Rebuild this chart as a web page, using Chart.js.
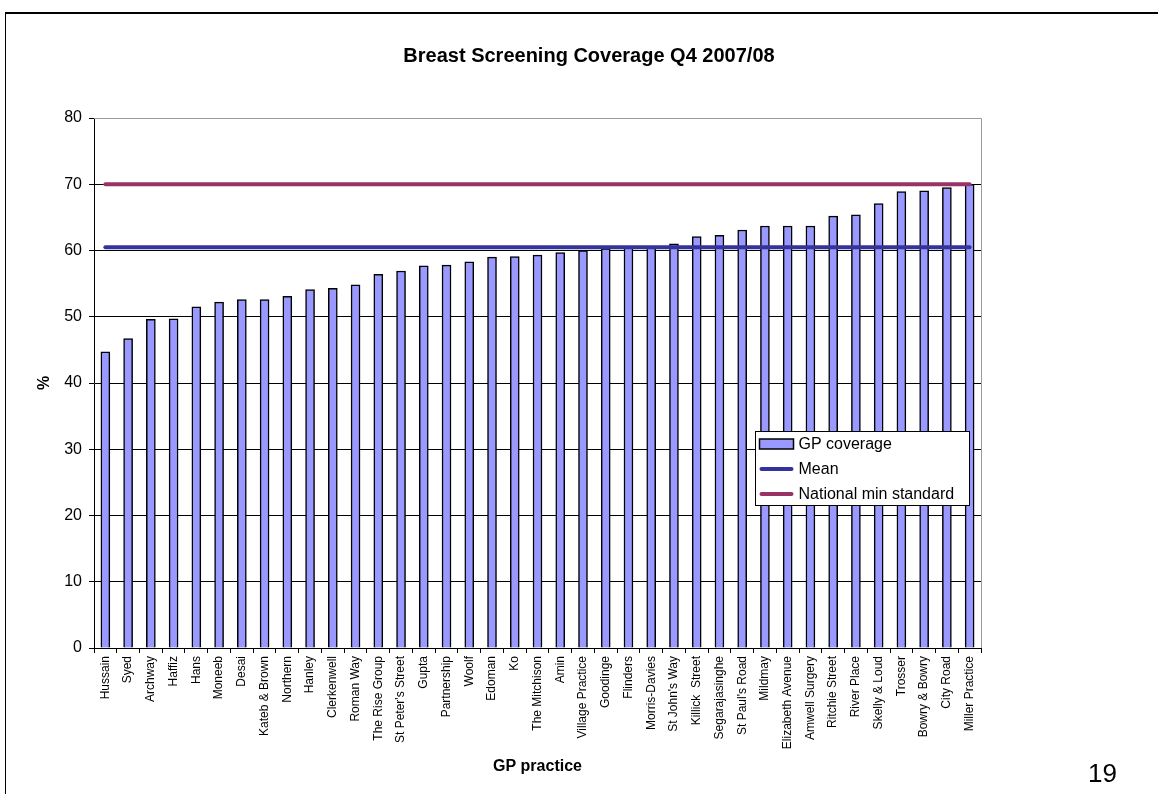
<!DOCTYPE html>
<html>
<head>
<meta charset="utf-8">
<title>Breast Screening Coverage Q4 2007/08</title>
<script src="https://cdn.jsdelivr.net/npm/chart.js@4.4.1/dist/chart.umd.min.js"></script>
<style>
    body { margin: 0; background: #fff; font-family: Arial, "Liberation Sans", sans-serif; overflow: hidden; }
    #frame { position: absolute; left: 5px; top: 12px; width: 1200px; height: 900px; border-top: 2px solid #000; border-left: 1px solid #000; }
    #wrap { position: absolute; left: 0; top: 0; width: 1158px; height: 794px; }
    #pageNo { position: absolute; left: 1088px; top: 760px; font-size: 26px; line-height: 26px; color: #000; }
</style>
</head>
<body>
<div id="frame"></div>
<div id="wrap"><canvas id="chart" width="1158" height="794"></canvas></div>
<div id="pageNo">19</div>
<script>
// GP practices, sorted by coverage
var practices = ['Hussain', 'Syed', 'Archway', 'Haffiz', 'Hans', 'Moneeb', 'Desai', 'Kateb & Brown',
    'Northern', 'Hanley', 'Clerkenwell', 'Roman Way', 'The Rise Group', "St Peter's Street", 'Gupta',
    'Partnership', 'Woolf', 'Edoman', 'Ko', 'The Mitchison', 'Amin', 'Village Practice', 'Goodinge',
    'Flinders', 'Morris-Davies', "St John's Way", 'Killick  Street', 'Segarajasinghe', "St Paul's Road",
    'Mildmay', 'Elizabeth Avenue', 'Amwell Surgery', 'Ritchie Street', 'River Place', 'Skelly & Loud',
    'Trosser', 'Bowry & Bowry', 'City Road', 'Miller Practice'];

// coverage % per practice
var coverage = [44.7, 46.7, 49.6, 49.7, 51.5, 52.2, 52.6, 52.6,
    53.1, 54.1, 54.3, 54.8, 56.4, 56.9, 57.7,
    57.8, 58.3, 59.0, 59.1, 59.3, 59.7, 60.0, 60.3,
    60.4, 60.5, 61.0, 62.1, 62.3, 63.1,
    63.7, 63.7, 63.7, 65.2, 65.4, 67.1,
    68.9, 69.0, 69.5, 70.0];

var meanValue = 60.5;
var nationalMin = 70;
var yTicks = [0, 10, 20, 30, 40, 50, 60, 70, 80];

var first = practices[0];
var last = practices[practices.length - 1];

// borde gris del area de trazado (arriba y derecha)
var plotBorder = {
    id: 'plotBorder',
    beforeDatasetsDraw: function (chart) {
        var a = chart.chartArea, ctx = chart.ctx;
        ctx.save();
        ctx.strokeStyle = '#9a9a9a';
        ctx.lineWidth = 1;
        ctx.beginPath();
        ctx.moveTo(a.left, a.top + 0.5);
        ctx.lineTo(Math.round(a.right) + 0.5, a.top + 0.5);
        ctx.lineTo(Math.round(a.right) + 0.5, a.bottom);
        ctx.stroke();
        ctx.restore();
    }
};

// titulo principal
var mainTitle = {
    id: 'mainTitle',
    afterDraw: function (chart) {
        var ctx = chart.ctx;
        ctx.save();
        ctx.font = 'bold 20px Arial, "Liberation Sans", sans-serif';
        ctx.fillStyle = '#000';
        ctx.textAlign = 'center';
        ctx.textBaseline = 'alphabetic';
        ctx.fillText('Breast Screening Coverage Q4 2007/08', 589, 62);
        ctx.restore();
    }
};

// leyenda dentro del area de trazado
var boxLegend = {
    id: 'boxLegend',
    afterDatasetsDraw: function (chart) {
        var a = chart.chartArea, ctx = chart.ctx;
        var x = Math.round(a.right) - 225.5, y = Math.round(a.top) + 313.5;
        var w = 214, h = 74;
        ctx.save();
        ctx.fillStyle = '#fff';
        ctx.fillRect(x, y, w, h);
        ctx.strokeStyle = '#000';
        ctx.lineWidth = 1;
        ctx.strokeRect(x, y, w, h);
        ctx.font = '16px Arial, "Liberation Sans", sans-serif';
        ctx.textBaseline = 'middle';
        chart.data.datasets.forEach(function (ds, i) {
            var cy = y + 12.5 + i * 25;
            if (ds.type === 'line') {
                ctx.strokeStyle = ds.borderColor;
                ctx.lineWidth = 4;
                ctx.lineCap = 'round';
                ctx.beginPath();
                ctx.moveTo(x + 6, cy);
                ctx.lineTo(x + 36, cy);
                ctx.stroke();
            } else {
                ctx.fillStyle = ds.backgroundColor;
                ctx.fillRect(x + 4, cy - 5, 34, 10);
                ctx.strokeStyle = '#000';
                ctx.lineWidth = 1.5;
                ctx.strokeRect(x + 4, cy - 5, 34, 10);
            }
            ctx.fillStyle = '#000';
            ctx.fillText(ds.label, x + 43, cy + 1);
        });
        ctx.restore();
    }
};

var ctx = document.getElementById('chart').getContext('2d');
var chart = new Chart(ctx, {
    type: 'bar',
    data: {
        labels: practices,
        datasets: [{
            label: 'GP coverage',
            data: coverage,
            backgroundColor: '#9999FF',
            borderColor: '#000',
            borderWidth: 1.5,
            barThickness: 9,
            order: 3
        }, {
            type: 'line',
            label: 'Mean',
            data: [{ x: first, y: meanValue }, { x: last, y: meanValue }],
            borderColor: '#333399',
            borderWidth: 4,
            borderCapStyle: 'round',
            pointRadius: 0,
            fill: false,
            order: 1
        }, {
            type: 'line',
            label: 'National min standard',
            data: [{ x: first, y: nationalMin }, { x: last, y: nationalMin }],
            borderColor: '#993366',
            borderWidth: 4,
            borderCapStyle: 'round',
            pointRadius: 0,
            fill: false,
            order: 2
        }]
    },
    options: {
        responsive: false,
        animation: false,
        layout: { padding: { left: 31, right: 177, top: 118, bottom: 0 } },
        plugins: {
            legend: { display: false },
            tooltip: { enabled: false },
            title: { display: false }
        },
        scales: {
            x: {
                offset: true,
                grid: { offset: true, drawOnChartArea: false, drawTicks: true, tickLength: 5, color: '#000' },
                border: { color: '#000', width: 1 },
                ticks: {
                    autoSkip: false, minRotation: 90, maxRotation: 90, padding: 3,
                    color: '#000', font: { family: 'Arial, "Liberation Sans", sans-serif', size: 12 }
                },
                title: {
                    display: true, text: 'GP practice', color: '#000',
                    font: { family: 'Arial, "Liberation Sans", sans-serif', size: 16, weight: 'bold' },
                    padding: { top: 4, bottom: 18 }
                },
                afterFit: function (scale) { scale.height = 146; }
            },
            y: {
                min: 0,
                max: 80,
                afterBuildTicks: function (scale) {
                    scale.ticks = yTicks.map(function (v) { return { value: v }; });
                },
                grid: {
                    color: function (c) { return c.tick && c.tick.value === 80 ? '#9a9a9a' : '#000'; },
                    tickColor: '#000',
                    tickLength: 5,
                    lineWidth: 1
                },
                border: { color: '#000', width: 1 },
                ticks: {
                    padding: 7, color: '#000',
                    font: { family: 'Arial, "Liberation Sans", sans-serif', size: 16 }
                },
                title: {
                    display: true, text: '%', color: '#000',
                    font: { family: 'Arial, "Liberation Sans", sans-serif', size: 16, weight: 'bold' },
                    padding: { top: 4, bottom: 4 }
                },
                afterFit: function (scale) { scale.width = 63; }
            }
        }
    },
    plugins: [plotBorder, boxLegend, mainTitle]
});
</script>
</body>
</html>
